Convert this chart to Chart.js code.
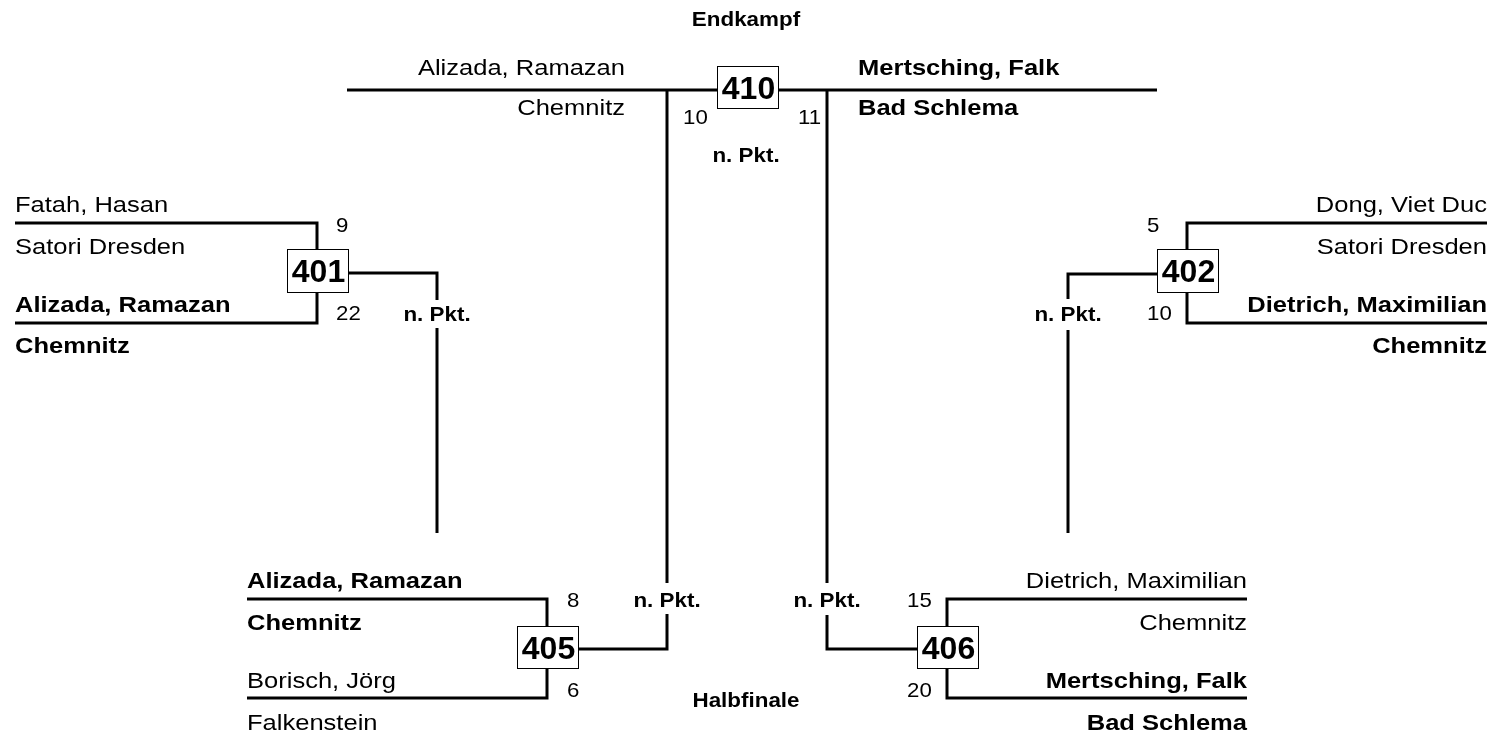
<!DOCTYPE html>
<html>
<head>
<meta charset="utf-8">
<script src="https://cdn.jsdelivr.net/npm/chart.js@4.4.0/dist/chart.umd.min.js"></script>
<style>
html,body{margin:0;padding:0;background:#fff;}
#wrap{position:relative;width:1494px;height:736px;}
</style>
</head>
<body>
<div id="wrap"><canvas id="c"></canvas></div>
<script>
// ---- data ----
const entrantNames = ['Fatah, Hasan','Alizada, Ramazan','Dong, Viet Duc','Dietrich, Maximilian',
  'Alizada, Ramazan','Borisch, Jörg','Dietrich, Maximilian','Mertsching, Falk',
  'Alizada, Ramazan','Mertsching, Falk'];
const entrantClubs = ['Satori Dresden','Chemnitz','Satori Dresden','Chemnitz',
  'Chemnitz','Falkenstein','Chemnitz','Bad Schlema',
  'Chemnitz','Bad Schlema'];
const entrantScores = [9,22,5,10,8,6,15,20,10,11];
const entrantWon = [false,true,false,true,true,false,false,true,false,true];
const matchNumbers = ['401','402','405','406','410'];
const roundTitles = ['Endkampf','Halbfinale'];
const decisionText = 'n. Pkt.';

// ---- layout (chart units: x 0..1494, y 0..736 top-down) ----
const bracketLines = [
  [[15,223],[317,223],[317,323],[15,323]],
  [[1487,223],[1187,223],[1187,323],[1487,323]],
  [[247,599],[547,599],[547,698],[247,698]],
  [[1247,599],[947,599],[947,698],[1247,698]],
  [[347,90],[1157,90]]
];
const connectorLines = [
  [[348,273],[437,273],[437,300]],
  [[437,328],[437,533]],
  [[1157,274],[1068,274],[1068,299]],
  [[1068,330],[1068,533]],
  [[578,649],[667,649],[667,614]],
  [[667,90],[667,583]],
  [[917,649],[827,649],[827,615]],
  [[827,90],[827,583]]
];
const boxRects = [[287,249,348,292],[1157,249,1218,292],[517,626,578,668],[917,626,978,668],[717,66,778,108]];
const namePos = [[15,212,'left'],[15,312,'left'],[1487,212,'right'],[1487,312,'right'],
  [247,588,'left'],[247,688,'left'],[1247,588,'right'],[1247,688,'right'],
  [625,75,'right'],[858,75,'left']];
const clubY = [254,353,254,353,630,730,630,730,115,115];
const scorePos = [[336,232],[336,320],[1147,232],[1147,320],[567,607],[567,697],[907,607],[907,697],[683,124],[798,124]];
const decisionPos = [[437,321],[1068,321],[667,607],[827,607],[746,162]];
const titlePos = [[746,26],[746,707]];

const datasets = bracketLines.concat(connectorLines).map(pts => ({
  data: pts.map(p => ({x:p[0], y:p[1]})),
  showLine: true, borderColor:'#000', borderWidth:3, pointRadius:0,
  fill:false, tension:0, borderCapStyle:'butt', borderJoinStyle:'miter'
}));

function txt(ctx, s, x, y, font, align, sx){
  ctx.save();
  ctx.translate(x, y);
  ctx.scale(sx, 1);
  ctx.font = font;
  ctx.textAlign = align;
  ctx.textBaseline = 'alphabetic';
  ctx.fillStyle = '#000';
  ctx.fillText(s, 0, 0);
  ctx.restore();
}

const labelsPlugin = {
  id:'bracketLabels',
  afterDatasetsDraw(chart){
    const ctx = chart.ctx, X = chart.scales.x, Y = chart.scales.y;
    const px = v => X.getPixelForValue(v), py = v => Y.getPixelForValue(v);
    const F = '"Liberation Sans", Arial, Helvetica, sans-serif';
    // boxes
    boxRects.forEach((r,i) => {
      const x0 = Math.round(px(r[0]))+0.5, y0 = Math.round(py(r[1]))+0.5;
      const x1 = Math.round(px(r[2]))+0.5, y1 = Math.round(py(r[3]))+0.5;
      ctx.save();
      ctx.fillStyle = '#fff'; ctx.fillRect(x0, y0, x1-x0, y1-y0);
      ctx.strokeStyle = '#000'; ctx.lineWidth = 1; ctx.strokeRect(x0, y0, x1-x0, y1-y0);
      ctx.restore();
      txt(ctx, matchNumbers[i], (px(r[0])+px(r[2]))/2 + 1, (py(r[1])+py(r[3]))/2 + 11.5, 'bold 32px '+F, 'center', 1.0);
    });
    // names, clubs, scores
    entrantNames.forEach((n,i) => {
      const w = entrantWon[i] ? 'bold ' : '';
      const p = namePos[i];
      txt(ctx, n, px(p[0]), py(p[1]), w+'22px '+F, p[2], 1.16);
      txt(ctx, entrantClubs[i], px(p[0]), py(clubY[i]), w+'22px '+F, p[2], 1.16);
      txt(ctx, String(entrantScores[i]), px(scorePos[i][0]), py(scorePos[i][1]), '21px '+F, 'left', 1.06);
    });
    decisionPos.forEach(p => txt(ctx, decisionText, px(p[0]), py(p[1]), 'bold 20px '+F, 'center', 1.12));
    roundTitles.forEach((t,i) => txt(ctx, t, px(titlePos[i][0]), py(titlePos[i][1]), 'bold 20px '+F, 'center', 1.12));
  }
};

new Chart(document.getElementById('c'), {
  type:'scatter',
  data:{datasets},
  options:{
    responsive:true, maintainAspectRatio:false, animation:false,
    layout:{padding:0},
    plugins:{legend:{display:false}, tooltip:{enabled:false}},
    scales:{
      x:{type:'linear', min:0, max:1494, display:false},
      y:{type:'linear', min:0, max:736, reverse:true, display:false}
    }
  },
  plugins:[labelsPlugin]
});
</script>
</body>
</html>
